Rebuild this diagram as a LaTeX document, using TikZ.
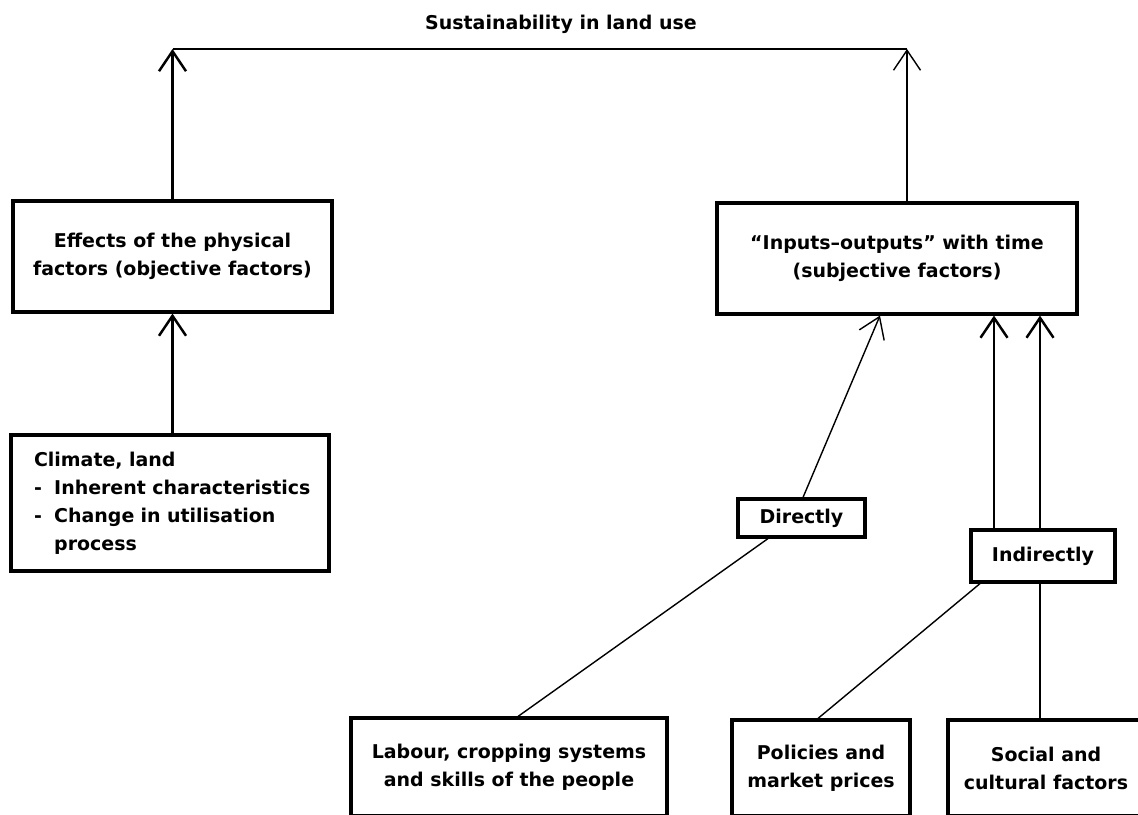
\documentclass[tikz,border=0pt]{standalone}
\usepackage{fontspec}
\setmainfont{DejaVu Sans}
\usetikzlibrary{calc}
\usepgflibrary{arrows.meta}

\tikzset{
  box/.style={draw,line width=1.8pt,align=center,inner sep=0pt},
  conn/.style={line width=1.4pt},
  thinconn/.style={line width=0.8pt},
  barb/.style={-{Straight Barb[length=4mm,width=5.4mm]}},
}

\begin{document}
\begin{tikzpicture}[x=0.02cm,y=-0.02cm,font=\bfseries\fontsize{10.8}{16}\selectfont]
        \clip (0,0) rectangle (1138,814);
        %目标
        \node (goal) at (561,24) {Sustainability in land use};
        \coordinate (topL) at (172.5,49);
        \coordinate (topR) at (907,49);
        %上层方框
        \node [box,minimum width=6.38cm,minimum height=2.22cm] (phys) at (172.5,256.5) {Effects of the physical\\factors (objective factors)};
        \node [box,minimum width=7.2cm,minimum height=2.22cm] (inp) at (897,258.5) {``Inputs--outputs'' with time\\(subjective factors)};
        %下层方框
        \node [box,align=left,text width=5.44cm,inner xsep=0.46cm,minimum height=2.72cm] (clim) at (170,503) {%
          \begin{tabular}{@{}l@{\hspace{7pt}}l@{}}
            \multicolumn{2}{@{}l}{Climate, land}\\
            - & Inherent characteristics\\
            - & Change in utilisation\\
              & process
          \end{tabular}};
        \node [box,minimum width=2.54cm,minimum height=0.76cm] (direct) at (801.5,518) {Directly};
        \node [box,minimum width=2.88cm,minimum height=1.04cm] (indir) at (1043,556) {Indirectly};
        \node [box,minimum width=6.32cm,minimum height=1.96cm] (labour) at (509,767) {Labour, cropping systems\\and skills of the people};
        \node [box,minimum width=3.56cm,minimum height=1.92cm] (policy) at (821,768) {Policies and\\market prices};
        \node [box,minimum width=3.92cm,minimum height=1.92cm] (social) at (1046,768) {Social and\\cultural factors};
        %连线
        \draw [conn] (topL) -- (topR);
        \draw [conn,barb] (phys.north) -- (topL);
        \draw [thinconn,barb] ($(inp.north)+(10,0)$) -- (topR);
        \draw [conn,barb] (phys.south |- clim.north) -- (phys.south);
        \draw [thinconn] ($(labour.north)+(9,0)$) -- ($(direct.south)+(-33.5,0)$);
        \draw [thinconn,barb] ($(direct.north)+(1.5,0)$) -- ($(inp.south)+(-17,0)$);
        \draw [thinconn] ($(policy.north)+(-3,0)$) -- ($(indir.south)+(-63,0)$);
        \draw [conn,barb] ($(indir.north)+(-49,0)$) -- ($(inp.south)+(97,0)$);
        \draw [conn,barb] ($(indir.north)+(-3,0)$) -- ($(inp.south)+(143,0)$);
        \draw [thinconn] ($(social.north)+(-6,0)$) -- ($(indir.south)+(-3,0)$);
\end{tikzpicture}
\end{document}
